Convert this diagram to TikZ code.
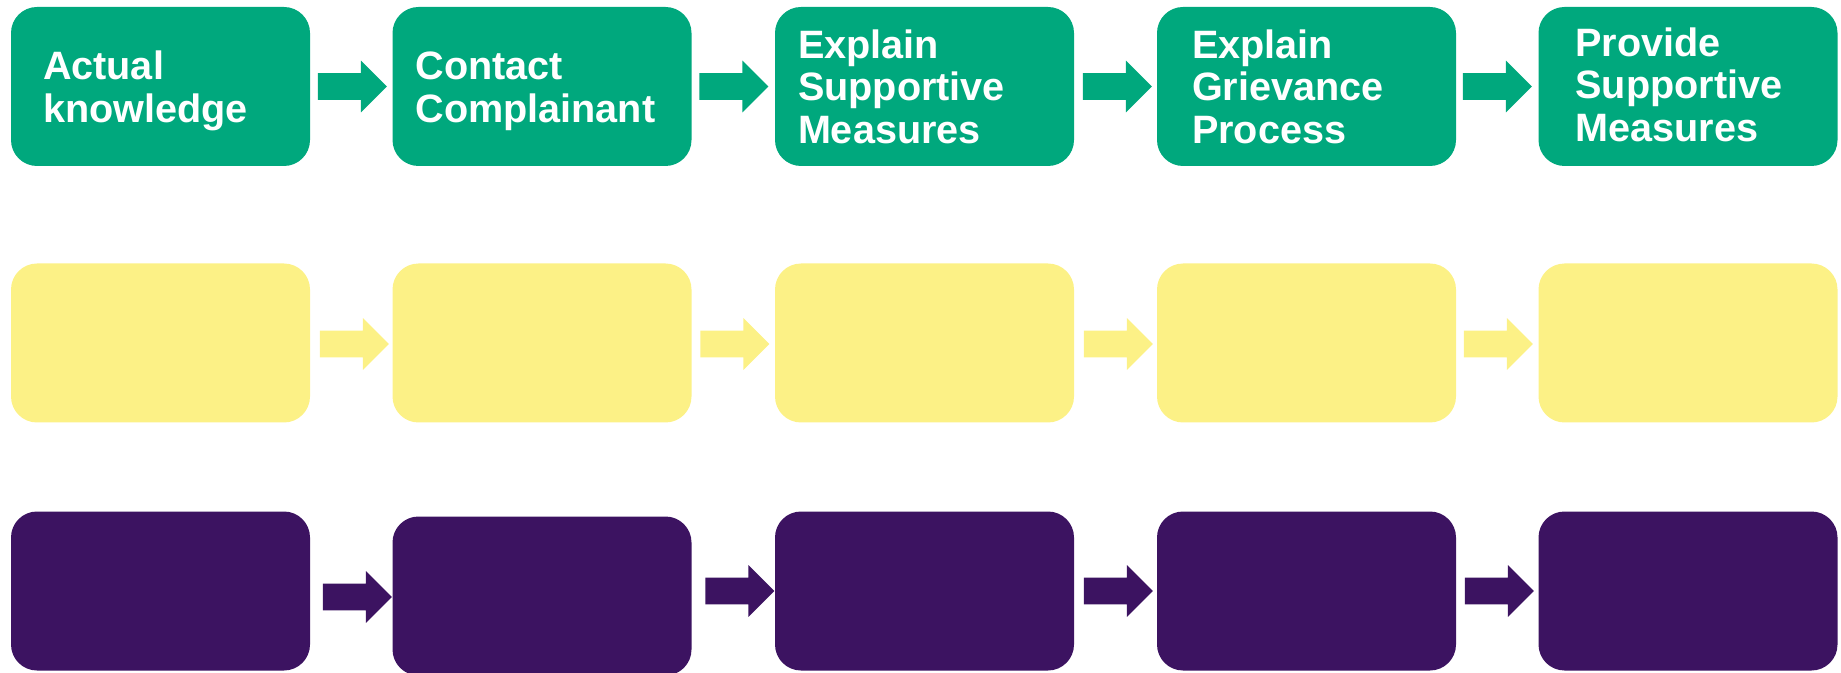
\documentclass[tikz,border=0pt]{standalone}
\usepackage{fontspec}
\setmainfont{Liberation Sans}
\usetikzlibrary{calc,positioning,shapes.arrows}
\definecolor{greenbox}{HTML}{00A87D}
\definecolor{yellowbox}{HTML}{FCF186}
\definecolor{purplebox}{HTML}{3C1361}

\tikzset{
  box/.style={rectangle, rounded corners=13pt, minimum width=149.5pt,
    minimum height=79.5pt, inner sep=0pt, draw=none},
  gbox/.style={box, fill=greenbox},
  ybox/.style={box, fill=yellowbox},
  pbox/.style={box, fill=purplebox},
  blockarrow/.style={single arrow, single arrow head extend=6.25pt,
    minimum height=34.5pt, minimum width=0pt, inner xsep=0pt,
    inner ysep=6.5pt, draw=none, anchor=tail},
  garrow/.style={blockarrow, fill=greenbox},
  yarrow/.style={blockarrow, fill=yellowbox},
  parrow/.style={blockarrow, fill=purplebox},
  steplabel/.style={text=white, align=left, inner sep=0pt,
    font=\fontsize{19.8pt}{21.3pt}\selectfont\bfseries}
}

\begin{document}
\begin{tikzpicture}[x=0.5pt,y=-0.5pt]
    \useasboundingbox (0,0) rectangle (1841,673);

    % green row
    \node[gbox] (g1) at (160.5,86.5) {};
    \node[gbox] (g2) at (542,86.5) {};
    \node[gbox] (g3) at (924.5,86.5) {};
    \node[gbox] (g4) at (1306.5,86.5) {};
    \node[gbox] (g5) at (1688,86.5) {};

    \node[steplabel, right=16pt of g1.west, yshift=-2.25pt] (t1) {Actual\\knowledge};
    \node[steplabel, right=11.5pt of g2.west, yshift=-2.25pt] (t2) {Contact\\Complainant};
    \node[steplabel, right=11.5pt of g3.west] (t3) {Explain\\Supportive\\Measures};
    \node[steplabel, right=17.5pt of g4.west] (t4) {Explain\\Grievance\\Process};
    \node[steplabel, right=18.5pt of g5.west, yshift=1pt] (t5) {Provide\\Supportive\\Measures};

    \node[garrow] (ga1) at ($(g1.east)+(7,0)$) {};
    \node[garrow] (ga2) at ($(g2.east)+(7,0)$) {};
    \node[garrow] (ga3) at ($(g3.east)+(8,0)$) {};
    \node[garrow] (ga4) at ($(g4.east)+(6,0)$) {};

    % yellow row
    \node[ybox] (y1) at (160.5,343) {};
    \node[ybox] (y2) at (542,343) {};
    \node[ybox] (y3) at (924.5,343) {};
    \node[ybox] (y4) at (1306.5,343) {};
    \node[ybox] (y5) at (1688,343) {};

    \node[yarrow] (ya1) at ($(y1.east)+(9,1)$) {};
    \node[yarrow] (ya2) at ($(y2.east)+(8,1)$) {};
    \node[yarrow] (ya3) at ($(y3.east)+(9,1)$) {};
    \node[yarrow] (ya4) at ($(y4.east)+(7,1)$) {};

    % purple row
    \node[pbox] (p1) at (160.5,591) {};
    \node[pbox] (p2) at (542,596) {};
    \node[pbox] (p3) at (924.5,591) {};
    \node[pbox] (p4) at (1306.5,591) {};
    \node[pbox] (p5) at (1688,591) {};

    \node[parrow] (pa1) at ($(p1.east)+(12,6)$) {};
    \node[parrow] (pa2) at ($(p2.east)+(13,-5)$) {};
    \node[parrow] (pa3) at ($(p3.east)+(9,0)$) {};
    \node[parrow] (pa4) at ($(p4.east)+(8,0)$) {};
\end{tikzpicture}
\end{document}
